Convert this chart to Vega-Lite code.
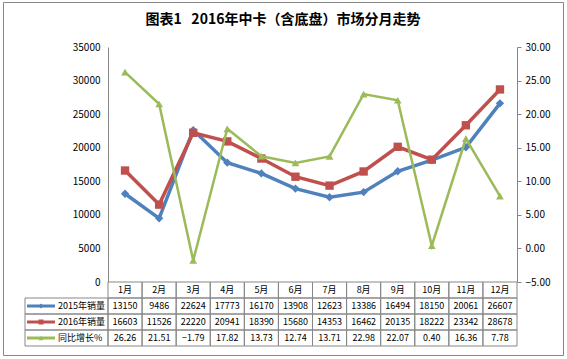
{
  "$schema": "https://vega.github.io/schema/vega-lite/v6.json",
  "width": 560,
  "height": 353,
  "autosize": {"type": "none"},
  "padding": {"left": 3, "top": 2, "right": 4, "bottom": 4},
  "background": "white",
  "config": {
    "view": {"stroke": "#878787", "strokeWidth": 1, "fill": "white"},
    "font": "Noto Sans CJK SC",
    "axis": {"grid": false, "labelFont": "Noto Sans CJK SC", "labelFontSize": 10, "labelColor": "#000000", "domainColor": "#878787", "tickColor": "#878787"}
  },
  "title": {"text": "图表1\u00a0\u00a0\u00a02016年中卡（含底盘）市场分月走势", "fontSize": 14, "fontWeight": "bold", "font": "Noto Sans CJK SC", "offset": -25, "anchor": "middle", "color": "#000000"},
  "data": {"values": [
    {"month": "1月", "series": "2015年销量", "value": 13150},
    {"month": "2月", "series": "2015年销量", "value": 9486},
    {"month": "3月", "series": "2015年销量", "value": 22624},
    {"month": "4月", "series": "2015年销量", "value": 17773},
    {"month": "5月", "series": "2015年销量", "value": 16170},
    {"month": "6月", "series": "2015年销量", "value": 13908},
    {"month": "7月", "series": "2015年销量", "value": 12623},
    {"month": "8月", "series": "2015年销量", "value": 13386},
    {"month": "9月", "series": "2015年销量", "value": 16494},
    {"month": "10月", "series": "2015年销量", "value": 18150},
    {"month": "11月", "series": "2015年销量", "value": 20061},
    {"month": "12月", "series": "2015年销量", "value": 26607},
    {"month": "1月", "series": "2016年销量", "value": 16603},
    {"month": "2月", "series": "2016年销量", "value": 11526},
    {"month": "3月", "series": "2016年销量", "value": 22220},
    {"month": "4月", "series": "2016年销量", "value": 20941},
    {"month": "5月", "series": "2016年销量", "value": 18390},
    {"month": "6月", "series": "2016年销量", "value": 15680},
    {"month": "7月", "series": "2016年销量", "value": 14353},
    {"month": "8月", "series": "2016年销量", "value": 16462},
    {"month": "9月", "series": "2016年销量", "value": 20135},
    {"month": "10月", "series": "2016年销量", "value": 18222},
    {"month": "11月", "series": "2016年销量", "value": 23342},
    {"month": "12月", "series": "2016年销量", "value": 28678},
    {"month": "1月", "series": "同比增长%", "value": 26.26},
    {"month": "2月", "series": "同比增长%", "value": 21.51},
    {"month": "3月", "series": "同比增长%", "value": -1.79},
    {"month": "4月", "series": "同比增长%", "value": 17.82},
    {"month": "5月", "series": "同比增长%", "value": 13.73},
    {"month": "6月", "series": "同比增长%", "value": 12.74},
    {"month": "7月", "series": "同比增长%", "value": 13.71},
    {"month": "8月", "series": "同比增长%", "value": 22.98},
    {"month": "9月", "series": "同比增长%", "value": 22.07},
    {"month": "10月", "series": "同比增长%", "value": 0.40},
    {"month": "11月", "series": "同比增长%", "value": 16.36},
    {"month": "12月", "series": "同比增长%", "value": 7.78}
  ]},
  "layer": [
    {
      "transform": [{"filter": "datum.series !== '同比增长%'"}],
      "encoding": {
        "x": {"field": "month", "type": "ordinal", "sort": null, "bandPosition": 0.5, "axis": null,
              "scale": {"type": "band", "domain": ["1月","2月","3月","4月","5月","6月","7月","8月","9月","10月","11月","12月"], "range": [105, 514], "paddingInner": 0, "paddingOuter": 0}},
        "y": {"field": "value", "type": "quantitative",
              "scale": {"domain": [0, 35000], "range": [280, 45], "nice": false, "zero": false},
              "axis": {"orient": "left", "offset": -105, "values": [0,5000,10000,15000,20000,25000,30000,35000], "ticks": false, "labelPadding": 8, "format": "d", "title": null}},
        "color": {"field": "series", "type": "nominal", "legend": null,
                  "scale": {"domain": ["2015年销量","2016年销量","同比增长%"], "range": ["#4F81BD","#C0504D","#9BBB59"]}}
      },
      "layer": [
        {"mark": {"type": "line", "strokeWidth": 3.5}},
        {"mark": {"type": "point", "filled": true, "opacity": 1},
         "encoding": {"shape": {"field": "series", "type": "nominal", "legend": null,
                                "scale": {"domain": ["2015年销量","2016年销量","同比增长%"], "range": ["diamond","square","triangle-up"]}},
                      "size": {"value": 70}}}
      ]
    },
    {
      "transform": [{"filter": "datum.series === '同比增长%'"}],
      "encoding": {
        "x": {"field": "month", "type": "ordinal", "sort": null, "bandPosition": 0.5, "axis": null,
              "scale": {"type": "band", "domain": ["1月","2月","3月","4月","5月","6月","7月","8月","9月","10月","11月","12月"], "range": [105, 514], "paddingInner": 0, "paddingOuter": 0}},
        "y": {"field": "value", "type": "quantitative",
              "scale": {"domain": [-5, 30], "range": [280, 45], "nice": false, "zero": false},
              "axis": {"orient": "right", "offset": -46, "values": [-5,0,5,10,15,20,25,30], "ticks": true, "tickSize": 4, "labelPadding": 4, "format": ".2f", "title": null}},
        "color": {"field": "series", "type": "nominal", "legend": null,
                  "scale": {"domain": ["2015年销量","2016年销量","同比增长%"], "range": ["#4F81BD","#C0504D","#9BBB59"]}}
      },
      "layer": [
        {"mark": {"type": "line", "strokeWidth": 2.5}},
        {"mark": {"type": "point", "filled": true, "opacity": 1},
         "encoding": {"shape": {"field": "series", "type": "nominal", "legend": null,
                                "scale": {"domain": ["2015年销量","2016年销量","同比增长%"], "range": ["diamond","square","triangle-up"]}},
                      "size": {"value": 60}}}
      ]
    },
    {
      "layer": [
        {
          "transform": [{"filter": "datum.series === '2015年销量'"}],
          "mark": {"type": "rect", "filled": false, "stroke": "#878787", "strokeWidth": 1},
          "encoding": {
            "x": {"field": "month", "type": "ordinal", "sort": null, "axis": null,
                  "scale": {"type": "band", "domain": ["1月","2月","3月","4月","5月","6月","7月","8月","9月","10月","11月","12月"], "range": [105, 514], "paddingInner": 0, "paddingOuter": 0}},
            "y": {"datum": "月份", "type": "ordinal", "axis": null,
                  "scale": {"type": "band", "domain": ["月份","2015年销量","2016年销量","同比增长%"], "range": [280, 344], "paddingInner": 0, "paddingOuter": 0}}
          }
        },
        {
          "transform": [{"filter": "datum.series === '2015年销量'"}],
          "mark": {"type": "text", "fontSize": 9, "color": "#000000", "baseline": "middle", "align": "center"},
          "encoding": {
            "x": {"field": "month", "type": "ordinal", "sort": null, "bandPosition": 0.5, "axis": null,
                  "scale": {"type": "band", "domain": ["1月","2月","3月","4月","5月","6月","7月","8月","9月","10月","11月","12月"], "range": [105, 514], "paddingInner": 0, "paddingOuter": 0}},
            "y": {"datum": "月份", "type": "ordinal", "axis": null, "bandPosition": 0.5,
                  "scale": {"type": "band", "domain": ["月份","2015年销量","2016年销量","同比增长%"], "range": [280, 344], "paddingInner": 0, "paddingOuter": 0}},
            "text": {"field": "month", "type": "nominal"}
          }
        },
        {
          "mark": {"type": "rect", "filled": false, "stroke": "#878787", "strokeWidth": 1},
          "encoding": {
            "x": {"field": "month", "type": "ordinal", "sort": null, "axis": null,
                  "scale": {"type": "band", "domain": ["1月","2月","3月","4月","5月","6月","7月","8月","9月","10月","11月","12月"], "range": [105, 514], "paddingInner": 0, "paddingOuter": 0}},
            "y": {"field": "series", "type": "ordinal", "axis": null,
                  "scale": {"type": "band", "domain": ["月份","2015年销量","2016年销量","同比增长%"], "range": [280, 344], "paddingInner": 0, "paddingOuter": 0}}
          }
        },
        {
          "transform": [{"filter": "datum.series !== '同比增长%'"}],
          "mark": {"type": "text", "fontSize": 9, "color": "#000000", "baseline": "middle", "align": "center"},
          "encoding": {
            "x": {"field": "month", "type": "ordinal", "sort": null, "bandPosition": 0.5, "axis": null,
                  "scale": {"type": "band", "domain": ["1月","2月","3月","4月","5月","6月","7月","8月","9月","10月","11月","12月"], "range": [105, 514], "paddingInner": 0, "paddingOuter": 0}},
            "y": {"field": "series", "type": "ordinal", "axis": null, "bandPosition": 0.5,
                  "scale": {"type": "band", "domain": ["月份","2015年销量","2016年销量","同比增长%"], "range": [280, 344], "paddingInner": 0, "paddingOuter": 0}},
            "text": {"field": "value", "type": "quantitative", "format": "d"}
          }
        },
        {
          "transform": [{"filter": "datum.series === '同比增长%'"}],
          "mark": {"type": "text", "fontSize": 9, "color": "#000000", "baseline": "middle", "align": "center"},
          "encoding": {
            "x": {"field": "month", "type": "ordinal", "sort": null, "bandPosition": 0.5, "axis": null,
                  "scale": {"type": "band", "domain": ["1月","2月","3月","4月","5月","6月","7月","8月","9月","10月","11月","12月"], "range": [105, 514], "paddingInner": 0, "paddingOuter": 0}},
            "y": {"field": "series", "type": "ordinal", "axis": null, "bandPosition": 0.5,
                  "scale": {"type": "band", "domain": ["月份","2015年销量","2016年销量","同比增长%"], "range": [280, 344], "paddingInner": 0, "paddingOuter": 0}},
            "text": {"field": "value", "type": "quantitative", "format": ".2f"}
          }
        }
      ]
    },
    {
      "transform": [{"filter": "datum.month === '1月'"}],
      "encoding": {
        "y": {"field": "series", "type": "ordinal", "axis": null, "bandPosition": 0.5,
              "scale": {"type": "band", "domain": ["月份","2015年销量","2016年销量","同比增长%"], "range": [280, 344], "paddingInner": 0, "paddingOuter": 0}},
        "color": {"field": "series", "type": "nominal", "legend": null,
                  "scale": {"domain": ["2015年销量","2016年销量","同比增长%"], "range": ["#4F81BD","#C0504D","#9BBB59"]}}
      },
      "layer": [
        {
          "mark": {"type": "rect", "filled": false, "stroke": "#878787", "strokeWidth": 1},
          "encoding": {
            "x": {"datum": 0, "type": "quantitative", "axis": null, "scale": {"domain": [0, 83], "range": [22, 105], "nice": false, "zero": false}},
            "x2": {"datum": 83},
            "y": {"field": "series", "type": "ordinal", "axis": null,
                  "scale": {"type": "band", "domain": ["月份","2015年销量","2016年销量","同比增长%"], "range": [280, 344], "paddingInner": 0, "paddingOuter": 0}},
            "color": {"value": "#878787"}
          }
        },
        {
          "mark": {"type": "rule", "strokeWidth": 3},
          "encoding": {
            "x": {"datum": 2, "type": "quantitative", "axis": null, "scale": {"domain": [0, 83], "range": [22, 105], "nice": false, "zero": false}},
            "x2": {"datum": 30}
          }
        },
        {
          "mark": {"type": "point", "filled": true, "opacity": 1},
          "encoding": {
            "x": {"datum": 16, "type": "quantitative", "axis": null, "scale": {"domain": [0, 83], "range": [22, 105], "nice": false, "zero": false}},
            "shape": {"field": "series", "type": "nominal", "legend": null,
                      "scale": {"domain": ["2015年销量","2016年销量","同比增长%"], "range": ["diamond","square","triangle-up"]}},
            "size": {"value": 25}
          }
        },
        {
          "mark": {"type": "text", "fontSize": 9, "baseline": "middle", "align": "left"},
          "encoding": {
            "x": {"datum": 33, "type": "quantitative", "axis": null, "scale": {"domain": [0, 83], "range": [22, 105], "nice": false, "zero": false}},
            "text": {"field": "series", "type": "nominal"},
            "color": {"value": "#000000"}
          }
        }
      ]
    }
  ],
  "resolve": {"scale": {"x": "independent", "y": "independent"}}
}
